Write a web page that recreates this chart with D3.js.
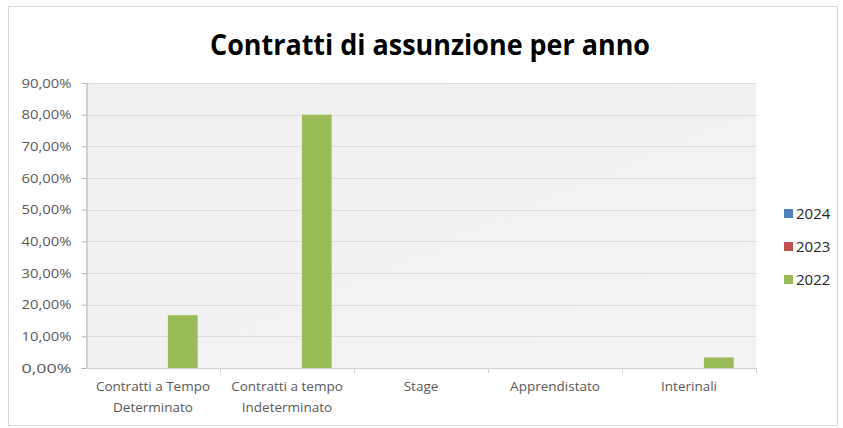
<!DOCTYPE html>
<html>
<head>
<meta charset="utf-8">
<script src="https://cdn.jsdelivr.net/npm/d3@7"></script>
<style>
  html, body { margin: 0; padding: 0; background: #ffffff; }
  svg { display: block; }
  text { font-family: "Open Sans", "Noto Sans", "Liberation Sans", sans-serif; }
</style>
</head>
<body>
<svg id="chart" width="843" height="428"></svg>
<script>
// Categories and series (share of hires by contract type)
const categories = [
  ["Contratti a Tempo", "Determinato"],
  ["Contratti a tempo", "Indeterminato"],
  ["Stage"],
  ["Apprendistato"],
  ["Interinali"]
];
const seriesNames = ["2024", "2023", "2022"];
const seriesColors = ["#4F81BD", "#C0504D", "#9BBB59"];
const values2024 = [0, 0, 0, 0, 0];
const values2023 = [0, 0, 0, 0, 0];
const values2022 = [16.67, 80.0, 0, 0, 3.33];
const yTicks = [0, 10, 20, 30, 40, 50, 60, 70, 80, 90];
const chartTitle = "Contratti di assunzione per anno";

const seriesValues = [values2024, values2023, values2022];

const svg = d3.select("#chart");
const W = 843, H = 428;

// outer frame
svg.append("rect")
  .attr("x", 8.5).attr("y", 6.5)
  .attr("width", W - 14).attr("height", H - 9)
  .attr("fill", "#ffffff")
  .attr("stroke", "#d9d9d9").attr("stroke-width", 1);

const plot = { left: 86, right: 756, top: 83, bottom: 368 };

const x0 = d3.scaleBand()
  .domain(d3.range(categories.length))
  .range([plot.left, plot.right])
  .paddingInner(0).paddingOuter(0);

const x1 = d3.scaleBand()
  .domain(d3.range(seriesNames.length))
  .range([0, x0.bandwidth()])
  .paddingOuter(0.75).paddingInner(0);

const y = d3.scaleLinear().domain([0, 90]).range([plot.bottom, plot.top]);

// plot background
const defs = svg.append("defs");
const grad = defs.append("linearGradient").attr("id", "plotbg")
  .attr("x1", "0").attr("y1", "0").attr("x2", "1").attr("y2", "1");
grad.append("stop").attr("offset", "0").attr("stop-color", "#f0f0f0");
grad.append("stop").attr("offset", "1").attr("stop-color", "#f3f3f3");

svg.append("rect")
  .attr("x", plot.left).attr("y", plot.top)
  .attr("width", plot.right - plot.left).attr("height", plot.bottom - plot.top)
  .attr("fill", "url(#plotbg)");

// horizontal gridlines
svg.append("g")
  .selectAll("line")
  .data(yTicks.filter(d => d > 0))
  .join("line")
  .attr("x1", plot.left).attr("x2", plot.right)
  .attr("y1", d => Math.round(y(d)) + 0.5).attr("y2", d => Math.round(y(d)) + 0.5)
  .attr("stroke", "#dcdcdc").attr("stroke-width", 1);

// bars
const groups = svg.append("g")
  .selectAll("g")
  .data(categories.map((c, i) => i))
  .join("g")
  .attr("transform", i => `translate(${x0(i)},0)`);

groups.selectAll("rect")
  .data(i => seriesValues.map((vals, s) => ({ s, v: vals[i] })))
  .join("rect")
  .attr("x", d => x1(d.s))
  .attr("width", x1.bandwidth())
  .attr("y", d => y(d.v))
  .attr("height", d => y(0) - y(d.v))
  .attr("fill", d => seriesColors[d.s]);

// y axis
const yAxis = d3.axisLeft(y)
  .tickValues(yTicks)
  .tickSize(5)
  .tickPadding(10)
  .tickFormat(d => d3.format(".2f")(d).replace(".", ",") + "%");

const gy = svg.append("g")
  .attr("transform", `translate(${plot.left + 0.5},0)`)
  .call(yAxis);
gy.select(".domain").attr("stroke", "#b3b3b3");
gy.selectAll(".tick line").attr("stroke", "#b3b3b3");
gy.selectAll(".tick text")
  .attr("fill", "#595959")
  .style("font-size", "13px")
  .attr("textLength", 50)
  .attr("lengthAdjust", "spacingAndGlyphs");

// x axis (ticks at category boundaries)
const boundaries = d3.range(categories.length + 1).map(i =>
  i < categories.length ? x0(i) : x0(categories.length - 1) + x0.bandwidth());

svg.append("line")
  .attr("x1", plot.left).attr("x2", plot.right)
  .attr("y1", plot.bottom + 0.5).attr("y2", plot.bottom + 0.5)
  .attr("stroke", "#d0d0d0");

svg.append("g")
  .selectAll("line")
  .data(boundaries.slice(1))
  .join("line")
  .attr("x1", d => Math.round(d) + 0.5).attr("x2", d => Math.round(d) + 0.5)
  .attr("y1", plot.bottom).attr("y2", plot.bottom + 5)
  .attr("stroke", "#d0d0d0");

const xl = svg.append("g")
  .selectAll("text")
  .data(categories)
  .join("text")
  .attr("x", (c, i) => x0(i) + x0.bandwidth() / 2)
  .attr("y", 391)
  .attr("text-anchor", "middle")
  .attr("fill", "#595959")
  .style("font-size", "13.5px");
xl.selectAll("tspan")
  .data(d => d)
  .join("tspan")
  .attr("x", function () { return this.parentNode.getAttribute("x"); })
  .attr("dy", (d, i) => i === 0 ? 0 : 21)
  .text(d => d);

// title
svg.append("text")
  .attr("x", 430).attr("y", 55)
  .attr("text-anchor", "middle")
  .attr("fill", "#000000")
  .style("font-size", "29px")
  .style("font-weight", "bold")
  .attr("textLength", 440)
  .attr("lengthAdjust", "spacingAndGlyphs")
  .text(chartTitle);

// legend
const legend = svg.append("g")
  .selectAll("g")
  .data(seriesNames)
  .join("g")
  .attr("transform", (d, i) => `translate(784,${213 + i * 33})`);
legend.append("rect")
  .attr("x", 0).attr("y", -4).attr("width", 9).attr("height", 9)
  .attr("fill", (d, i) => seriesColors[i]);
legend.append("text")
  .attr("x", 12).attr("y", 6)
  .attr("fill", "#262626")
  .style("font-size", "15px")
  .text(d => d);
</script>
</body>
</html>
